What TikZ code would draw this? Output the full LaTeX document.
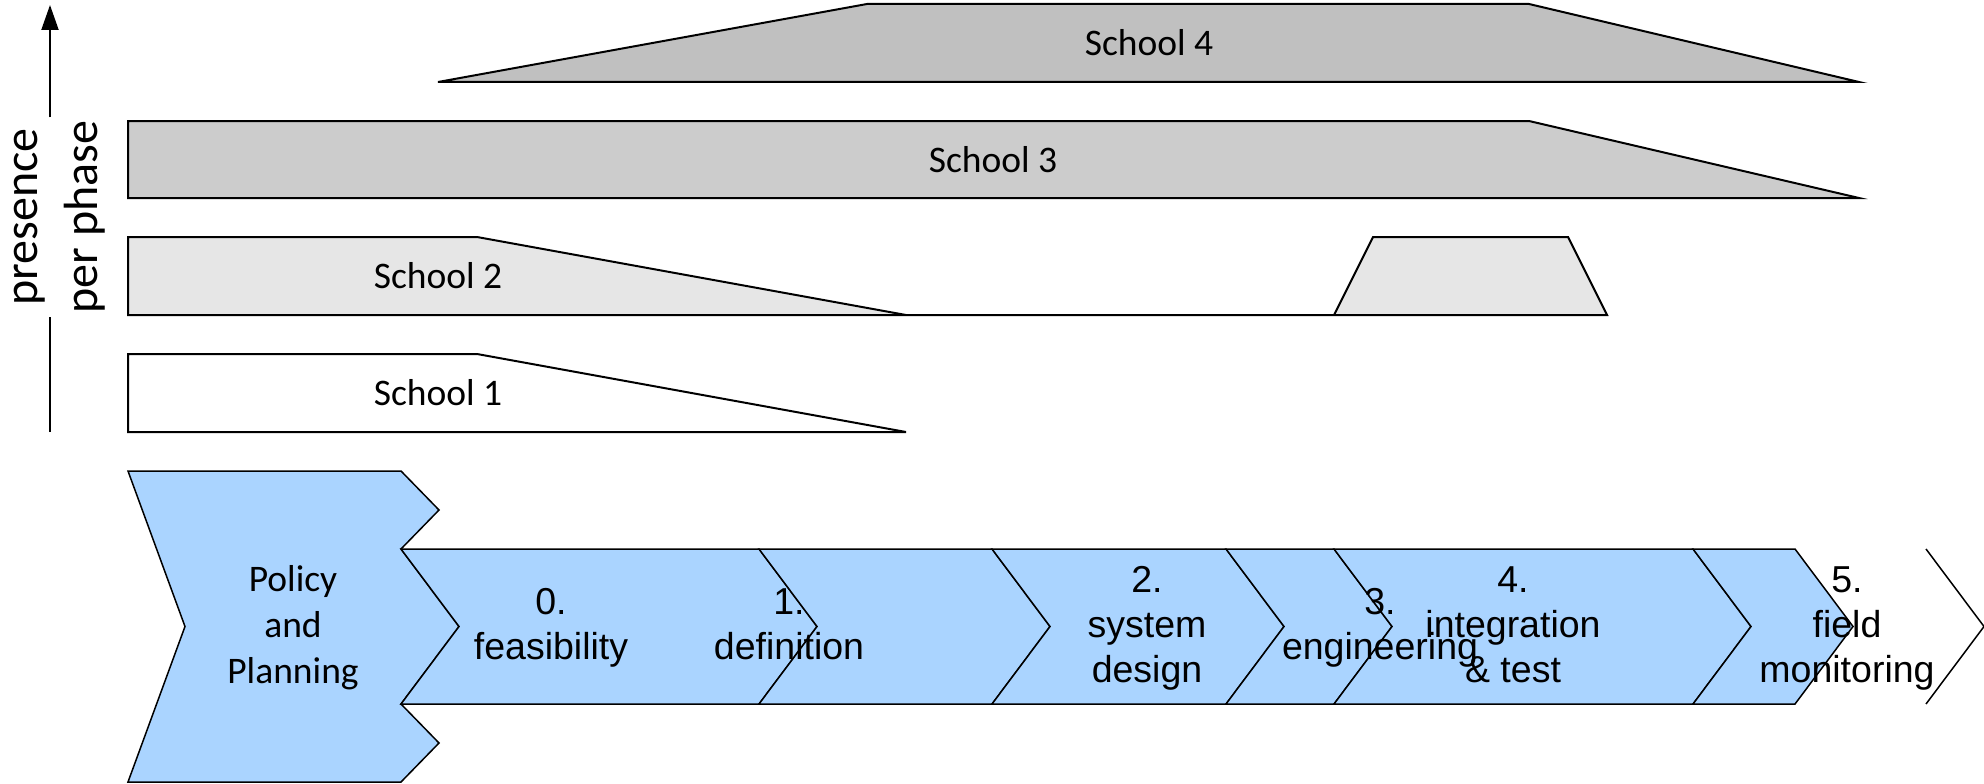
\documentclass[tikz,border=0pt]{standalone}
\usepackage{fontspec}
\setmainfont{Liberation Sans}
\newfontfamily\calibri{Carlito}
\usetikzlibrary{arrows.meta}

\definecolor{phaseblue}{RGB}{170,212,255}
\definecolor{grayfour}{RGB}{192,192,192}
\definecolor{graythree}{RGB}{204,204,204}
\definecolor{graytwo}{RGB}{230,230,230}

\tikzset{
	band/.style={draw, line width=2pt},
	phase/.style={draw, line width=1.5pt, fill=phaseblue},
	phaselbl/.style={align=center, inner sep=0pt, font=\fontsize{37.5}{45}\selectfont},
	bandlbl/.style={inner sep=0pt, font=\calibri\fontsize{37.5}{45}\selectfont},
}

\begin{document}
\begin{tikzpicture}[x=1pt, y=-1pt]
	\useasboundingbox (0,0) rectangle (1984,784);

	% schools, top to bottom
	\draw[band, fill=grayfour] (438,82) -- (867,4) -- (1529,4) -- (1859,82) -- cycle;
	\node[bandlbl] (school4) at (1149,43) {School 4};

	\draw[band, fill=graythree] (128,121) -- (1529,121) -- (1859,198) -- (128,198) -- cycle;
	\node[bandlbl] (school3) at (993,160) {School 3};

	% school 2 comes back in later
	\draw[band, fill=graytwo] (128,237) -- (477,237) -- (906,315) -- (1334,315) -- (1373,237)
		-- (1568,237) -- (1607,315) -- (128,315) -- cycle;
	\node[bandlbl] (school2) at (438,276) {School 2};

	\draw[band, fill=white] (128,354) -- (477,354) -- (906,432) -- (128,432) -- cycle;
	\node[bandlbl] (school1) at (438,393) {School 1};

	% presence axis
	\coordinate (axbot) at (50,432);
	\coordinate (axtop) at (50,5);
	\node[rotate=90, align=center, inner sep=3pt, font=\calibri\fontsize{48}{60}\selectfont]
		(axlbl) at (55,217) {\strut presence\\\strut per phase};
	\draw[line width=2pt] (axbot) -- (axbot |- axlbl.west);
	\draw[line width=2pt, -{Triangle[length=25pt, width=17pt]}] (axtop |- axlbl.east) -- (axtop);

	% policy and planning
	\draw[phase] (128,471) -- (401,471) -- (439,510) -- (401,549) -- (459,626.5) -- (401,704)
		-- (439,743) -- (401,782) -- (128,782) -- (185,626.5) -- cycle;

	% phases 0 to 5
	\foreach \l/\r in {401/759, 759/992, 992/1226, 1226/1334, 1334/1693, 1693/1795}
		\draw[phase] (\l,549) -- (\r,549) -- ++(58,77.5) -- (\r,704) -- (\l,704) -- ++(58,-77.5) -- cycle;

	% open end
	\draw[line width=1.5pt] (1926,549) -- ++(58,77.5) -- (1926,704);

	% labels
	\node[phaselbl, font=\calibri\fontsize{37.5}{46}\selectfont] (policy) at (293,628)
		{\strut Policy\\\strut and\\\strut Planning};
	\node[phaselbl] (feas) at (551,628) {\strut 0.\\\strut feasibility};
	\node[phaselbl] (defn) at (789,628) {\strut 1.\\\strut definition};
	\node[phaselbl] (sysd) at (1147,628) {\strut 2.\\\strut system\\\strut design};
	\node[phaselbl] (engr) at (1380,628) {\strut 3.\\\strut engineering};
	\node[phaselbl] (intg) at (1513,628) {\strut 4.\\\strut integration\\\strut \& test};
	\node[phaselbl] (fild) at (1847,628) {\strut 5.\\\strut field\\\strut monitoring};
\end{tikzpicture}
\end{document}
